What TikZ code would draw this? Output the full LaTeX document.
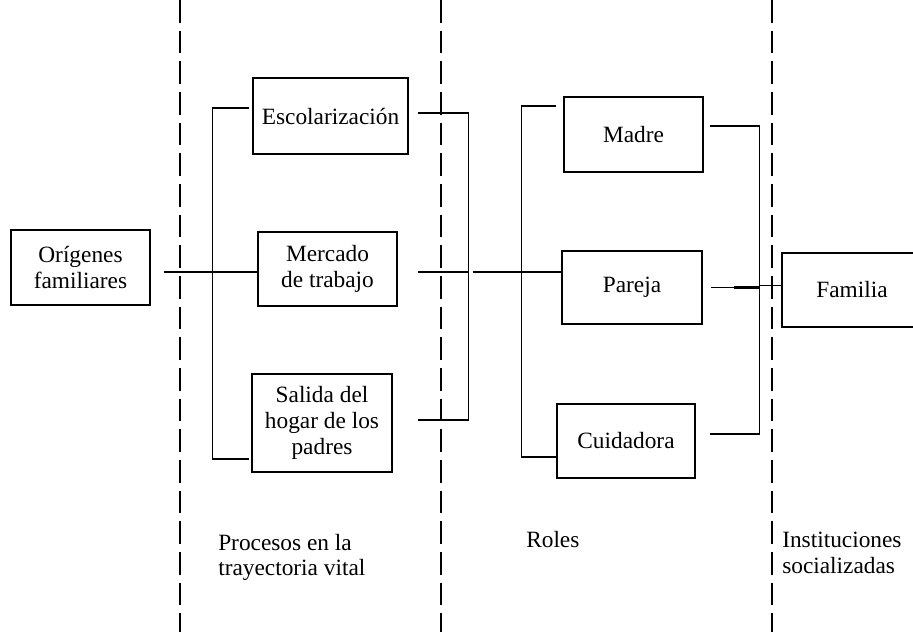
\documentclass[tikz,border=0pt]{standalone}
\usepackage{fontspec}
\setmainfont{Liberation Serif}
\usetikzlibrary{calc}
\begin{document}
\begin{tikzpicture}[x=0.75pt,y=-0.75pt,
  box/.style={draw,line width=0.9pt,inner sep=0pt,align=center,font=\fontsize{17.5}{19.5}\selectfont},
  conn/.style={line width=0.9pt},
  thick conn/.style={line width=1.8pt},
  sep/.style={line width=0.9pt,dash pattern=on 17pt off 6pt},
  lab/.style={inner sep=0pt,align=left,font=\fontsize{17.5}{19}\selectfont}]
\useasboundingbox (0,0) rectangle (913,632);
\fill[white] (0,0) rectangle (913,632);

% column separators
\coordinate (s1t) at (180,0);   \coordinate (s1b) at (180,632);
\coordinate (s2t) at (441,0);   \coordinate (s2b) at (441,632);
\coordinate (s3t) at (772,0);   \coordinate (s3b) at (772,632);
\draw[sep] (s1t) -- (s1b);
\draw[sep] (s2t) -- (s2b);
\draw[sep] (s3t) -- (s3b);

% boxes
\node[box,minimum width=104.25pt,minimum height=56.25pt] (orig) at (80.5,267.5) {Orígenes\\familiares};
\node[box,minimum width=116.25pt,minimum height=57pt] (esc) at (330.5,116) {Escolarización};
\node[box,minimum width=104.25pt,minimum height=55.5pt] (merc) at (327.5,269) {Mercado\\de trabajo};
\node[box,minimum width=105pt,minimum height=73.5pt] (sal) at (322,423) {Salida del\\hogar de los\\padres};
\node[box,minimum width=104.25pt,minimum height=56.25pt] (mad) at (633.5,134.5) {Madre};
\node[box,minimum width=105pt,minimum height=54.75pt] (par) at (632,287.5) {Pareja};
\node[box,minimum width=103.5pt,minimum height=55.5pt] (cui) at (626,441) {Cuidadora};
\node[box,minimum width=105pt,minimum height=55.5pt] (fam) at (852,290) {Familia};

% connectors
\draw[conn] ($(orig.east)+(13,4.5)$) -- ($(merc.west)+(0,3)$);
\draw[conn] ($(esc.west)+(-3,-8)$) -- ++(-37,0) |- ($(sal.west)+(-2,36)$);
\draw[conn] ($(esc.east)+(9,-3)$) -- ++(51,0) |- ($(sal.east)+(25,-3)$);
\draw[conn] ($(merc.east)+(20,3)$) -- ++(51,0);
\draw[conn] ($(merc.east)+(75,3)$) -- ($(par.west)+(0,-15.5)$);
\draw[conn] ($(mad.west)+(-7,-28.5)$) -- ++(-35,0) |- ($(cui.west)+(0,16)$);
\draw[conn] ($(mad.east)+(6,-8.5)$) -- ++(50,0) |- ($(cui.east)+(14,-7)$);
\draw[conn] ($(par.east)+(8,0)$) -- ++(49,0);
\draw[thick conn] ($(par.east)+(31,0)$) -- ++(26,0);
\draw[conn] ($(par.east)+(57,-2)$) -- ($(fam.west)+(0,-4.5)$);

% column labels
\node[lab,anchor=north west] (l1) at (218,534) {Procesos en la\\trayectoria vital};
\node[lab,anchor=base west] (l2) at (526,547) {Roles};
\node[lab,anchor=north west] (l3) at (782,532) {Instituciones\\socializadas};
\end{tikzpicture}
\end{document}
